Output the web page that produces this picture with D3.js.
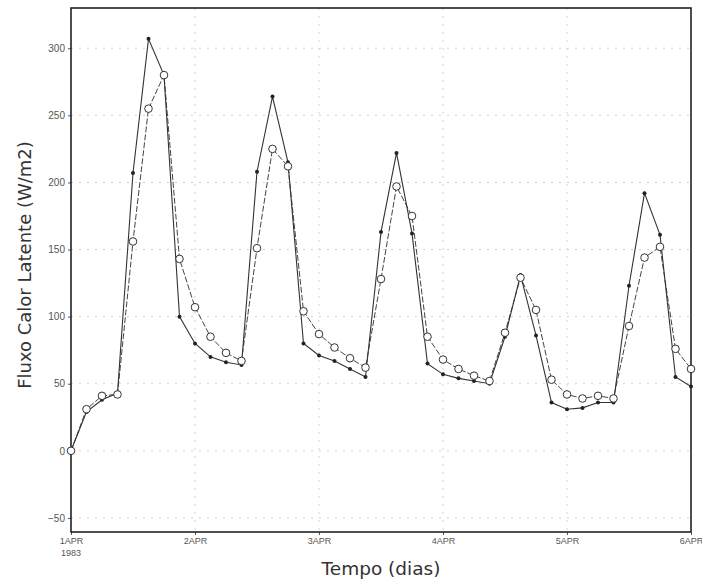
<!DOCTYPE html>
<html>
<head>
<meta charset="utf-8">
<script src="https://cdn.jsdelivr.net/npm/d3@7"></script>
<style>
  html, body { margin: 0; padding: 0; background: #fff; }
  svg { display: block; }
</style>
</head>
<body>
<svg id="chart" width="702" height="584"></svg>
<script>
// 3-hourly latent heat flux, 1 APR 1983 00Z to 6 APR 1983 00Z (41 samples)
const stepDays = 0.125;
const fluxSolid = [0, 29, 38, 43, 207, 307, 280, 100, 80, 70, 66, 64, 208, 264, 215, 80, 71, 67, 61, 55,
                   163, 222, 162, 65, 57, 54, 52, 50, 85, 131, 86, 36, 31, 32, 36, 36, 123, 192, 161, 55, 48];
const fluxOpen  = [0, 31, 41, 42, 156, 255, 280, 143, 107, 85, 73, 67, 151, 225, 212, 104, 87, 77, 69, 62,
                   128, 197, 175, 85, 68, 61, 56, 52, 88, 129, 105, 53, 42, 39, 41, 39, 93, 144, 152, 76, 61];
const yTicks = [-50, 0, 50, 100, 150, 200, 250, 300];
const dayTicks = [0, 1, 2, 3, 4, 5];
const dayLabels = ["1APR", "2APR", "3APR", "4APR", "5APR", "6APR"];
const yearLabel = "1983";
const yTitle = "Fluxo Calor Latente (W/m2)";
const xTitle = "Tempo (dias)";

const svg = d3.select("#chart");
const m = { left: 71, right: 691, top: 8, bottom: 532 };

const x = d3.scaleLinear().domain([0, 5]).range([m.left, m.right]);
const y = d3.scaleLinear().domain([-60.5, 330]).range([m.bottom, m.top]);

// dotted grid
const grid = svg.append("g").attr("stroke", "#d2d2d2").attr("stroke-width", 1)
  .attr("stroke-dasharray", "2,6");
grid.selectAll("line.h").data(yTicks).join("line")
  .attr("x1", m.left).attr("x2", m.right)
  .attr("y1", d => y(d)).attr("y2", d => y(d));
grid.selectAll("line.v").data(dayTicks.slice(1, -1)).join("line")
  .attr("x1", d => x(d)).attr("x2", d => x(d))
  .attr("y1", m.top).attr("y2", m.bottom);

// y axis
const yAxis = svg.append("g").attr("transform", `translate(${m.left},0)`)
  .call(d3.axisLeft(y).tickValues(yTicks).tickSize(3).tickPadding(3));
yAxis.select(".domain").remove();
yAxis.selectAll("text").attr("font-family", "Liberation Sans, Arial, sans-serif")
  .attr("font-size", 10).attr("fill", "#555");
yAxis.selectAll("line").attr("stroke", "#555");

// x axis
const xAxis = svg.append("g").attr("transform", `translate(0,${m.bottom})`)
  .call(d3.axisBottom(x).tickValues(dayTicks).tickSize(3).tickPadding(3)
    .tickFormat((d, i) => dayLabels[i]));
xAxis.select(".domain").remove();
xAxis.selectAll("text").attr("font-family", "Liberation Sans, Arial, sans-serif")
  .attr("font-size", 9).attr("fill", "#555");
xAxis.selectAll("line").attr("stroke", "#555");
xAxis.append("text").attr("x", x(0)).attr("y", 24)
  .attr("text-anchor", "middle").attr("font-family", "Liberation Sans, Arial, sans-serif")
  .attr("font-size", 9).attr("fill", "#555").text(yearLabel);

// frame
svg.append("rect").attr("x", m.left).attr("y", m.top)
  .attr("width", m.right - m.left).attr("height", m.bottom - m.top)
  .attr("fill", "none").attr("stroke", "#222").attr("stroke-width", 1.6);

const line = d3.line().x((d, i) => x(i * stepDays)).y(d => y(d));

// open-circle series (dashed)
svg.append("path").datum(fluxOpen).attr("d", line)
  .attr("fill", "none").attr("stroke", "#444").attr("stroke-width", 1)
  .attr("stroke-dasharray", "6,2");
// filled-dot series (solid)
svg.append("path").datum(fluxSolid).attr("d", line)
  .attr("fill", "none").attr("stroke", "#333").attr("stroke-width", 1.1);

svg.append("g").selectAll("circle").data(fluxSolid).join("circle")
  .attr("cx", (d, i) => x(i * stepDays)).attr("cy", d => y(d))
  .attr("r", 2).attr("fill", "#222");

svg.append("g").selectAll("circle").data(fluxOpen).join("circle")
  .attr("cx", (d, i) => x(i * stepDays)).attr("cy", d => y(d))
  .attr("r", 3.8).attr("fill", "#fff").attr("stroke", "#333").attr("stroke-width", 1);

// axis titles
svg.append("text").attr("x", (m.left + m.right) / 2).attr("y", 575)
  .attr("text-anchor", "middle").attr("font-family", "DejaVu Sans, sans-serif")
  .attr("font-size", 18.5).attr("fill", "#333").text(xTitle);
svg.append("text")
  .attr("transform", `translate(31,${(m.top + m.bottom) / 2 - 5}) rotate(-90)`)
  .attr("text-anchor", "middle").attr("font-family", "DejaVu Sans, sans-serif")
  .attr("font-size", 18).attr("fill", "#333").text(yTitle);
</script>
</body>
</html>
